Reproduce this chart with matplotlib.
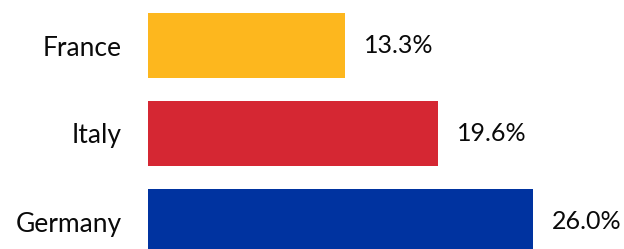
import matplotlib
matplotlib.use("Agg")
import matplotlib.pyplot as plt

countries = ["France", "Italy", "Germany"]
values = [13.3, 19.6, 26.0]
colors = ["#FDB71E", "#D52733", "#0033A0"]

plt.rcParams['font.family'] = ['Lato', 'DejaVu Sans']

W, H = 624, 249
fig = plt.figure(figsize=(W / 100, H / 100), dpi=100)
x0 = 148
ppu = 14.8
ax = fig.add_axes([x0 / W, 0, 1 - x0 / W, 1])
ax.set_xlim(0, (W - x0) / ppu)
pitch = 88
ax.set_ylim(2 + (H - 221.5) / pitch, -45.5 / pitch)

ypos = list(range(len(countries)))
ax.barh(ypos, values, height=65 / pitch, color=colors)
for y, v in zip(ypos, values):
    ax.text(v + 19 / ppu, y, f"{v:.1f}%", va="center", ha="left", fontsize=18, color="#0a0a0a")

ax.set_yticks(ypos)
ax.set_yticklabels(countries, fontsize=19, color="#0a0a0a")
ax.tick_params(axis="y", length=0, pad=19)
ax.set_xticks([])
for s in ax.spines.values():
    s.set_visible(False)

fig.savefig("out.png", dpi=100)
